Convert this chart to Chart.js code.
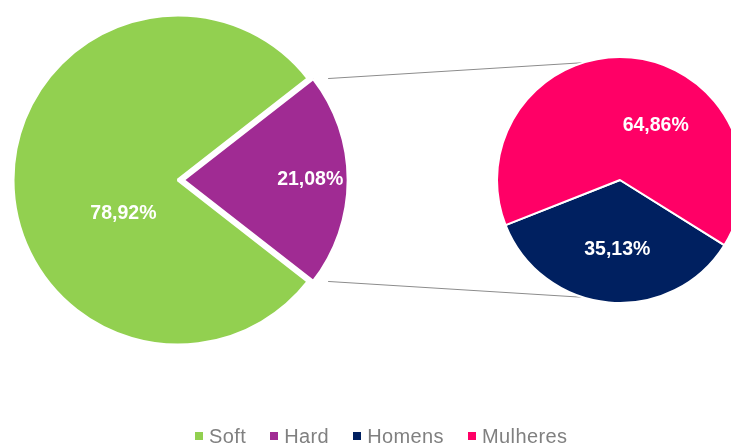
<!DOCTYPE html>
<html><head><meta charset="utf-8">
<script src="https://cdn.jsdelivr.net/npm/chart.js@4/dist/chart.umd.min.js"></script>
<style>
html,body{margin:0;padding:0;background:#fff;overflow:hidden}
#wrap{position:relative;width:731px;height:448px;overflow:hidden;background:#fff}
canvas{position:absolute;left:0;top:0}
#legend{position:absolute;left:195px;top:426px;display:flex;align-items:center;font:20px "Liberation Sans",Arial,sans-serif;letter-spacing:0.4px;color:#808080;line-height:20px;white-space:nowrap}
.item{display:flex;align-items:center;margin-right:24px}
.sw{width:8px;height:8px;margin-right:6px}
</style></head><body>
<div id="wrap">
<canvas id="c1" width="731" height="448"></canvas>
<canvas id="c2" width="731" height="448"></canvas>
<div id="legend"></div>
</div>
<script>
// ---- data ----
const mainCategories = ['Soft', 'Hard'];
const mainValues = [78.92, 21.08];
const subCategories = ['Homens', 'Mulheres'];
const subValues = [35.13, 64.86];
const legendLabels = ['Soft', 'Hard', 'Homens', 'Mulheres'];

// ---- style ----
const mainColors = ['#92D050', '#A02B93'];
const subColors = ['#002060', '#FF0066'];
const legendColors = ['#92D050', '#A02B93', '#002060', '#FF0066'];
const labelFont = 'bold 19.5px "Liberation Sans", Arial, sans-serif';

function fmt(v){ return v.toFixed(2).replace('.', ',') + '%'; }

function labelPlugin(id, shifts, fracs){
  return {
    id,
    afterDatasetsDraw(chart){
      const meta = chart.getDatasetMeta(0);
      const ds = chart.data.datasets[0];
      const ctx = chart.ctx;
      ctx.save();
      ctx.font = labelFont;
      ctx.fillStyle = '#ffffff';
      ctx.textAlign = 'center';
      ctx.textBaseline = 'middle';
      meta.data.forEach((arc, i) => {
        const p = arc.getProps(['x','y','startAngle','endAngle','outerRadius'], true);
        const mid = (p.startAngle + p.endAngle) / 2;
        const off = arc.options.offset || 0;
        const cx = p.x + off * Math.cos(mid), cy = p.y + off * Math.sin(mid);
        const a = mid + shifts[i] * Math.PI / 180;
        const r = p.outerRadius * fracs[i];
        ctx.fillText(fmt(ds.data[i]), cx + r * Math.cos(a), cy + r * Math.sin(a));
      });
      ctx.restore();
    }
  };
}

const chartA = new Chart(document.getElementById('c1'), {
  type: 'pie',
  data: {
    labels: mainCategories,
    datasets: [{
      data: mainValues,
      backgroundColor: mainColors,
      borderColor: '#ffffff',
      borderWidth: 3,
      offset: [0, 20],
      clip: false
    }]
  },
  options: {
    responsive: false,
    animation: false,
    events: [],
    radius: 165,
    rotation: 90 + 180 * mainValues[1] / (mainValues[0] + mainValues[1]),
    layout: { padding: { left: 0, top: 0, right: 375, bottom: 88 } },
    plugins: { legend: { display: false }, tooltip: { enabled: false } }
  },
  plugins: [labelPlugin('lblA', [-32, 0], [0.39, 0.68])]
});

const connectorPlugin = {
  id: 'connectors',
  beforeDatasetsDraw(chart){
    const hard = chartA.getDatasetMeta(0).data[1];
    const hp = hard.getProps(['x','y','startAngle','endAngle','outerRadius'], true);
    const mid = (hp.startAngle + hp.endAngle) / 2;
    const off = hard.options.offset || 0;
    const hx = hp.x + off * Math.cos(mid), hy = hp.y + off * Math.sin(mid);
    const sub = chart.getDatasetMeta(0).data[0];
    const sp = sub.getProps(['x','y','outerRadius'], true);
    const endAng = 107.5 * Math.PI / 180;
    const ctx = chart.ctx;
    ctx.save();
    ctx.strokeStyle = '#8c8c8c';
    ctx.lineWidth = 1;
    ctx.beginPath();
    ctx.moveTo(hx + hp.outerRadius * Math.cos(hp.startAngle), hy + hp.outerRadius * Math.sin(hp.startAngle));
    ctx.lineTo(sp.x + sp.outerRadius * Math.cos(-endAng), sp.y + sp.outerRadius * Math.sin(-endAng));
    ctx.moveTo(hx + hp.outerRadius * Math.cos(hp.endAngle), hy + hp.outerRadius * Math.sin(hp.endAngle));
    ctx.lineTo(sp.x + sp.outerRadius * Math.cos(endAng), sp.y + sp.outerRadius * Math.sin(endAng));
    ctx.stroke();
    ctx.restore();
  }
};

const chartB = new Chart(document.getElementById('c2'), {
  type: 'pie',
  data: {
    labels: subCategories,
    datasets: [{
      data: subValues,
      backgroundColor: subColors,
      borderColor: '#ffffff',
      borderWidth: 2,
      clip: false
    }]
  },
  options: {
    responsive: false,
    animation: false,
    events: [],
    radius: 123,
    rotation: 122,
    layout: { padding: { left: 509, top: 57, right: 0, bottom: 145 } },
    plugins: { legend: { display: false }, tooltip: { enabled: false } }
  },
  plugins: [connectorPlugin, labelPlugin('lblB', [-3, 28], [0.57, 0.53])]
});

// legend
const lg = document.getElementById('legend');
legendLabels.forEach((t, i) => {
  const it = document.createElement('div'); it.className = 'item';
  const sw = document.createElement('div'); sw.className = 'sw'; sw.style.background = legendColors[i];
  const tx = document.createElement('span'); tx.textContent = t;
  it.appendChild(sw); it.appendChild(tx); lg.appendChild(it);
});
</script>
</body></html>
